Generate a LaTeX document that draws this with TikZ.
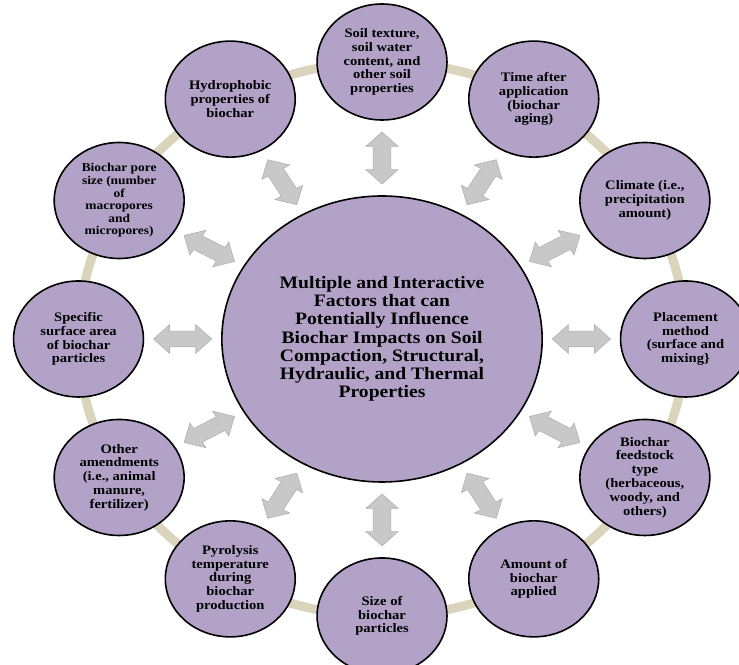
\documentclass[tikz,border=0pt]{standalone}
\usepackage{fontspec}
\setmainfont{Liberation Serif}
\usetikzlibrary{calc, shapes.arrows}
\definecolor{lav}{HTML}{B3A2C7}
\definecolor{tanring}{HTML}{D9D4BB}
\definecolor{arrgray}{HTML}{C8C8C8}

\begin{document}
\begin{tikzpicture}[xscale=1.12, every node/.style={transform shape},
	fac/.style={circle, draw=black, line width=1.6pt, fill=lav, minimum size=116pt, inner sep=0pt, align=center, font=\fontsize{13}{13.8}\selectfont\bfseries},
	hub/.style={circle, draw=black, line width=1.6pt, fill=lav, minimum size=286pt, inner sep=0pt, align=center, font=\fontsize{17.5}{18.2}\selectfont\bfseries},
	dbl/.style={double arrow, draw=gray!60, line width=0.6pt, fill=arrgray, minimum height=52pt, inner xsep=0pt, inner ysep=7.5pt, double arrow head extend=6.5pt},
	ring/.style={draw=tanring, line width=9pt}]
	\useasboundingbox (-341.1pt,-326pt) rectangle (318.75pt,339pt);
	\draw[ring] (0,0) ellipse (271pt and 277pt);
	% centre
	\node[hub] (c) at (0,0) {Multiple and Interactive\\ Factors that can\\ Potentially Influence\\ Biochar Impacts on Soil\\ Compaction, Structural,\\ Hydraulic, and Thermal\\ Properties};
	% factors around the ring
	\node[fac] (soil) at (90:271pt and 277pt) {Soil texture,\\ soil water\\ content, and\\ other soil\\ properties};
	\node[fac] (time) at (60:271pt and 277pt) {Time after\\ application\\ (biochar\\ aging)};
	\node[fac] (clim) at (30:271pt and 277pt) {Climate (i.e.,\\ precipitation\\ amount)};
	\node[fac] (place) at (0:271pt and 277pt) {Placement\\ method\\ (surface and\\ mixing\}};
	\node[fac] (feed) at (-30:271pt and 277pt) {Biochar\\ feedstock\\ type\\ (herbaceous,\\ woody, and\\ others)};
	\node[fac] (amount) at (-60:271pt and 277pt) {Amount of\\ biochar\\ applied};
	\node[fac] (size) at (-90:271pt and 277pt) {Size of\\ biochar\\ particles};
	\node[fac] (pyro) at (-120:271pt and 277pt) {Pyrolysis\\ temperature\\ during\\ biochar\\ production};
	\node[fac] (amend) at (-150:271pt and 277pt) {Other\\ amendments\\ (i.e., animal\\ manure,\\ fertilizer)};
	\node[fac] (surf) at (180:271pt and 277pt) {Specific\\ surface area\\ of biochar\\ particles};
	\node[fac, font=\fontsize{12}{12.6}\selectfont\bfseries] (pore) at (150:271pt and 277pt) {Biochar pore\\ size (number\\ of\\ macropores\\ and\\ micropores)};
	\node[fac] (hydro) at (120:271pt and 277pt) {Hydrophobic\\ properties of\\ biochar};
	% two-way arrows
	\node[dbl, rotate=90] (a-soil) at ($(c.90)!.5!(soil.270)$) {};
	\node[dbl, rotate=60] (a-time) at ($(c.60)!.5!(time.240)$) {};
	\node[dbl, rotate=30] (a-clim) at ($(c.30)!.5!(clim.210)$) {};
	\node[dbl, rotate=0] (a-place) at ($(c.0)!.5!(place.180)$) {};
	\node[dbl, rotate=-30] (a-feed) at ($(c.-30)!.5!(feed.150)$) {};
	\node[dbl, rotate=-60] (a-amount) at ($(c.-60)!.5!(amount.120)$) {};
	\node[dbl, rotate=-90] (a-size) at ($(c.-90)!.5!(size.90)$) {};
	\node[dbl, rotate=-120] (a-pyro) at ($(c.-120)!.5!(pyro.60)$) {};
	\node[dbl, rotate=-150] (a-amend) at ($(c.-150)!.5!(amend.30)$) {};
	\node[dbl, rotate=180] (a-surf) at ($(c.180)!.5!(surf.0)$) {};
	\node[dbl, rotate=150] (a-pore) at ($(c.150)!.5!(pore.-30)$) {};
	\node[dbl, rotate=120] (a-hydro) at ($(c.120)!.5!(hydro.-60)$) {};
\end{tikzpicture}
\end{document}
